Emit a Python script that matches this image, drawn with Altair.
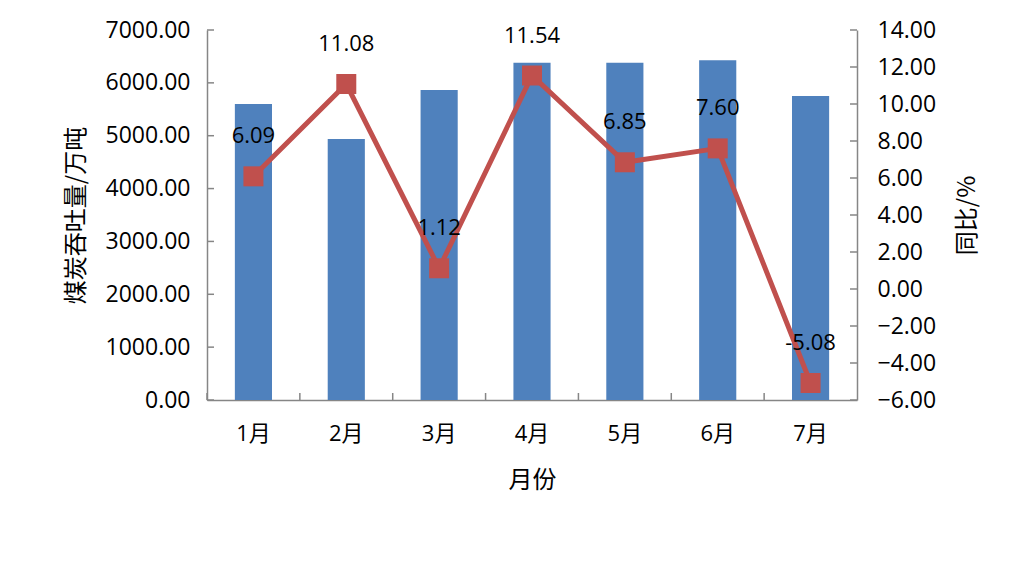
import altair as alt
import pandas as pd

months = ["1月", "2月", "3月", "4月", "5月", "6月", "7月"]
volume = [5600, 4940, 5865, 6380, 6380, 6430, 5750]
yoy = [6.09, 11.08, 1.12, 11.54, 6.85, 7.60, -5.08]
left_ticks = [0, 1000, 2000, 3000, 4000, 5000, 6000, 7000]
right_ticks = [-6, -4, -2, 0, 2, 4, 6, 8, 10, 12, 14]

df = pd.DataFrame({"month": months, "volume": volume, "yoy": yoy})
df["label"] = [f"{v:.2f}" for v in yoy]

FONT = "Open Sans, Noto Sans CJK SC"
CJK = "Noto Sans CJK SC"
AX = "#868686"
BAR = "#4F81BD"
RED = "#C0504D"
W, H = 650, 370

x_enc = alt.X(
    "month:N", sort=months,
    scale=alt.Scale(paddingInner=0, paddingOuter=0),
    axis=alt.Axis(title="月份", ticks=False, domainColor=AX, domainWidth=1.5,
                  labelFont=FONT, labelFontSize=22, labelColor="black", labelAngle=0,
                  labelPadding=23, titleFont=CJK, titleFontSize=24, titleFontWeight="normal",
                  titleColor="black", titlePadding=24),
)

left_axis = alt.Axis(title="煤炭吞吐量/万吨", values=left_ticks, format=".2f", ticks=False,
                     domainColor=AX, domainWidth=1.5, labelFont=FONT, labelFontSize=23,
                     labelColor="black", labelPadding=17, titleFont=CJK, titleFontSize=24,
                     titleFontWeight="normal", titleColor="black", titlePadding=17)
right_axis = alt.Axis(title="同比/%", orient="right", values=right_ticks, format=".2f", ticks=False,
                      domainColor=AX, domainWidth=1.5, labelFont=FONT, labelFontSize=23,
                      labelColor="black", labelPadding=20, titleFont=CJK, titleFontSize=24,
                      titleFontWeight="normal", titleColor="black", titlePadding=44, titleAngle=270)

yl = alt.Y("volume:Q", scale=alt.Scale(domain=[0, 7000], nice=False, zero=False), axis=left_axis)
yr = alt.Y("yoy:Q", scale=alt.Scale(domain=[-6, 14], nice=False, zero=False), axis=right_axis)

bars = alt.Chart(df).mark_bar(color=BAR, width=alt.RelativeBandSize(0.4)).encode(x=x_enc, y=yl)
lticks = alt.Chart(pd.DataFrame({"volume": left_ticks})).mark_rule(color=AX, strokeWidth=1.5).encode(
    y=yl, x=alt.value(0), x2=alt.value(7))
xticks = alt.Chart(pd.DataFrame({"month": months})).mark_rule(color=AX, strokeWidth=1.5).encode(
    x=alt.X("month:N", sort=months, bandPosition=0), y=alt.value(H), y2=alt.value(H - 7))

base = alt.Chart(df).encode(x=x_enc, y=yr)
line = base.mark_line(color=RED, strokeWidth=5)
points = base.mark_point(shape="square", size=400, filled=True, color=RED, opacity=1)
text = base.mark_text(dy=-40, fontSize=22, font=FONT, color="black").encode(text="label:N")
rticks = alt.Chart(pd.DataFrame({"yoy": right_ticks})).mark_rule(color=AX, strokeWidth=1.5).encode(
    y=yr, x=alt.value(W), x2=alt.value(W - 7))

left = alt.layer(bars, lticks, xticks)
right = alt.layer(line, points, text, rticks)

chart = alt.layer(left, right).resolve_scale(y="independent").properties(
    width=W, height=H,
    autosize=alt.AutoSizeParams(type="none"),
    padding={"left": 199, "top": 22, "right": 155, "bottom": 168},
    background="white",
).configure_view(stroke=None).configure_axis(grid=False)

chart.save("out.html", embed_options={"renderer": "svg", "actions": False})
